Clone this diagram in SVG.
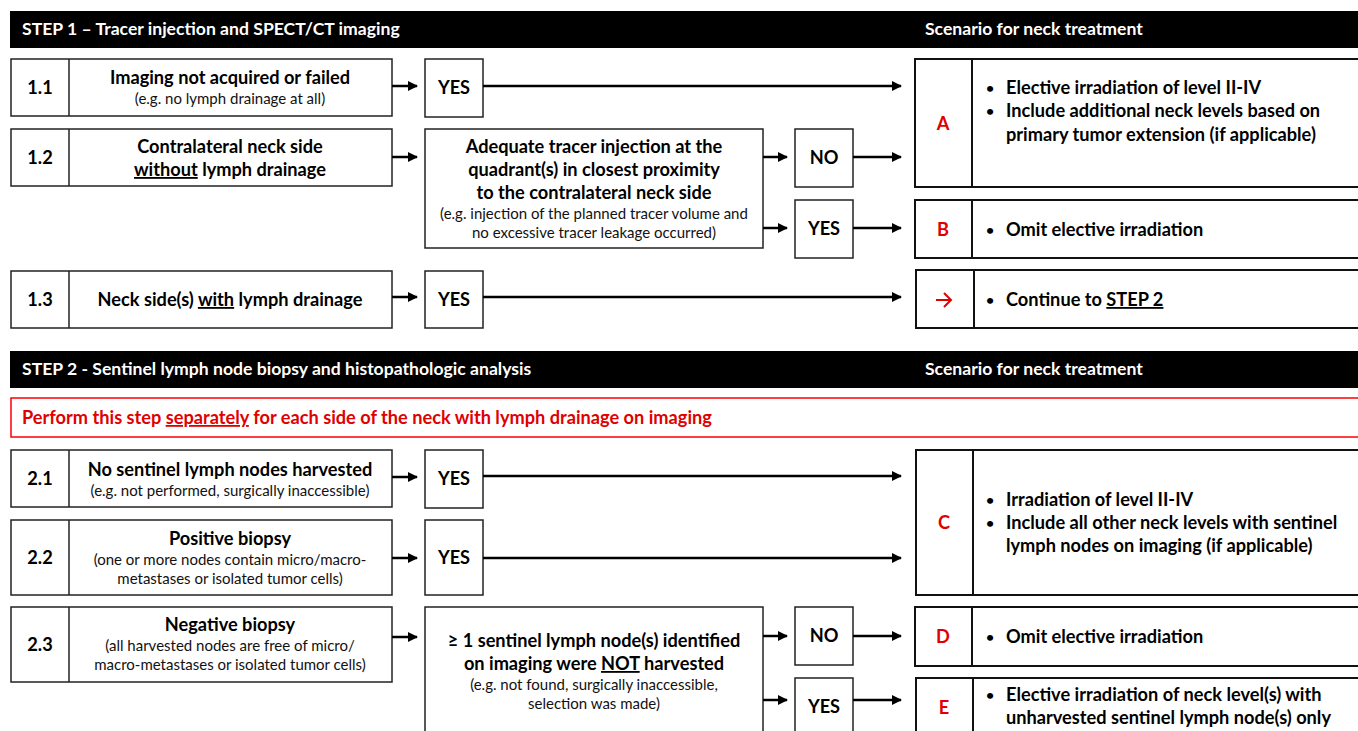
<svg xmlns="http://www.w3.org/2000/svg" width="1358" height="731" viewBox="0 0 1358 731">
<style>
text{font-family:Lato,"Open Sans","Liberation Sans",sans-serif;}
.b{font-weight:bold;font-size:18.2px;fill:#000;}
.s{font-size:15px;fill:#111;}
.h{font-weight:bold;font-size:17.6px;fill:#fff;}
.r{font-weight:bold;font-size:18.2px;fill:#e00000;}
.dot{font-weight:bold;font-size:14px;fill:#000;}
.m{text-anchor:middle;}
.box{fill:#fff;stroke:#222;stroke-width:1.5;}
.sbox{fill:#fff;stroke:#111;stroke-width:2;}
.bar{fill:#000;}
.con{stroke:#000;stroke-width:2.5;fill:none;marker-end:url(#ah);}
.u{text-decoration:underline;}
</style>
<defs>
<marker id="ah" viewBox="0 0 10 10" refX="9" refY="5" markerWidth="4" markerHeight="4" orient="auto" markerUnits="strokeWidth">
<path d="M0,0 L10,5 L0,10 z" fill="#000"/>
</marker>
</defs>
<rect width="1358" height="731" fill="#fff"/>

<g id="header1">
<rect class="bar" x="10" y="11" width="1350" height="37"/>
<text class="h" x="22" y="35">STEP 1 – Tracer injection and SPECT/CT imaging</text>
<text class="h" x="925" y="35">Scenario for neck treatment</text>
</g>

<g id="n1_1">
<rect class="box" x="11" y="59" width="381" height="57"/>
<line x1="69" y1="59" x2="69" y2="116" stroke="#222" stroke-width="1.5"/>
<text class="b m" x="40" y="94">1.1</text>
<text class="b m" x="230" y="84">Imaging not acquired or failed</text>
<text class="s m" x="230" y="104">(e.g. no lymph drainage at all)</text>
</g>
<g id="n1_2">
<rect class="box" x="11" y="129" width="381" height="57"/>
<line x1="69" y1="129" x2="69" y2="186" stroke="#222" stroke-width="1.5"/>
<text class="b m" x="40" y="164">1.2</text>
<text class="b m" x="230" y="153">Contralateral neck side</text>
<text class="b m" x="230" y="176"><tspan class="u">without</tspan> lymph drainage</text>
</g>
<g id="n1_3">
<rect class="box" x="11" y="271" width="381" height="57"/>
<line x1="69" y1="271" x2="69" y2="328" stroke="#222" stroke-width="1.5"/>
<text class="b m" x="40" y="306">1.3</text>
<text class="b m" x="230" y="306">Neck side(s) <tspan class="u">with</tspan> lymph drainage</text>
</g>
<g id="yes1_1">
<rect class="box" x="425" y="59" width="58" height="58"/>
<text class="b m" x="454" y="94">YES</text>
</g>
<g id="adequate">
<rect class="box" x="425" y="129" width="338" height="119"/>
<text class="b m" x="594" y="153">Adequate tracer injection at the</text>
<text class="b m" x="594" y="176">quadrant(s) in closest proximity</text>
<text class="b m" x="594" y="199">to the contralateral neck side</text>
<text class="s m" x="594" y="219">(e.g. injection of the planned tracer volume and</text>
<text class="s m" x="594" y="238">no excessive tracer leakage occurred)</text>
</g>
<g id="no1_2">
<rect class="box" x="795" y="129" width="58" height="58"/>
<text class="b m" x="824" y="164">NO</text>
</g>
<g id="yes1_2">
<rect class="box" x="795" y="200" width="58" height="58"/>
<text class="b m" x="824" y="235">YES</text>
</g>
<g id="yes1_3">
<rect class="box" x="425" y="271" width="58" height="57"/>
<text class="b m" x="454" y="306">YES</text>
</g>

<g id="scenA">
<rect class="sbox" x="915" y="59" width="450" height="128"/>
<line x1="972" y1="59" x2="972" y2="187" stroke="#111" stroke-width="2"/>
<text class="r m" x="943" y="130">A</text>
<text class="dot" x="986" y="93">•</text>
<text class="b" x="1006" y="94">Elective irradiation of level II-IV</text>
<text class="dot" x="986" y="116">•</text>
<text class="b" x="1006" y="117">Include additional neck levels based on</text>
<text class="b" x="1006" y="141">primary tumor extension (if applicable)</text>
</g>
<g id="scenB">
<rect class="sbox" x="915" y="200" width="450" height="58"/>
<line x1="972" y1="200" x2="972" y2="258" stroke="#111" stroke-width="2"/>
<text class="r m" x="943" y="236">B</text>
<text class="dot" x="986" y="235">•</text>
<text class="b" x="1006" y="236">Omit elective irradiation</text>
</g>
<g id="scenContinue">
<rect class="sbox" x="916" y="270" width="450" height="58"/>
<line x1="974" y1="270" x2="974" y2="328" stroke="#111" stroke-width="2"/>
<path d="M936,300 H950 M944,293 L951,300 L944,307" stroke="#e00000" stroke-width="2" fill="none"/>
<text class="dot" x="986" y="305">•</text>
<text class="b" x="1006" y="306">Continue to <tspan class="u">STEP 2</tspan></text>
</g>

<g id="header2">
<rect class="bar" x="10" y="351" width="1350" height="37"/>
<text class="h" x="22" y="375">STEP 2 - Sentinel lymph node biopsy and histopathologic analysis</text>
<text class="h" x="925" y="375">Scenario for neck treatment</text>
</g>
<g id="note">
<rect x="11" y="398" width="1352" height="39" fill="#fff" stroke="#ff0000" stroke-width="1.5"/>
<text class="r" x="22" y="424">Perform this step <tspan class="u">separately</tspan> for each side of the neck with lymph drainage on imaging</text>
</g>

<g id="n2_1">
<rect class="box" x="11" y="450" width="381" height="57"/>
<line x1="69" y1="450" x2="69" y2="507" stroke="#222" stroke-width="1.5"/>
<text class="b m" x="40" y="485">2.1</text>
<text class="b m" x="230" y="476">No sentinel lymph nodes harvested</text>
<text class="s m" x="230" y="496">(e.g. not performed, surgically inaccessible)</text>
</g>
<g id="n2_2">
<rect class="box" x="11" y="520" width="381" height="75"/>
<line x1="69" y1="520" x2="69" y2="595" stroke="#222" stroke-width="1.5"/>
<text class="b m" x="40" y="564">2.2</text>
<text class="b m" x="230" y="545">Positive biopsy</text>
<text class="s m" x="230" y="565">(one or more nodes contain micro/macro-</text>
<text class="s m" x="230" y="584">metastases or isolated tumor cells)</text>
</g>
<g id="n2_3">
<rect class="box" x="11" y="607" width="381" height="75"/>
<line x1="69" y1="607" x2="69" y2="682" stroke="#222" stroke-width="1.5"/>
<text class="b m" x="40" y="651">2.3</text>
<text class="b m" x="230" y="631">Negative biopsy</text>
<text class="s m" x="230" y="651">(all harvested nodes are free of micro/</text>
<text class="s m" x="230" y="670">macro-metastases or isolated tumor cells)</text>
</g>
<g id="yes2_1">
<rect class="box" x="425" y="450" width="58" height="58"/>
<text class="b m" x="454" y="485">YES</text>
</g>
<g id="yes2_2">
<rect class="box" x="425" y="520" width="58" height="75"/>
<text class="b m" x="454" y="564">YES</text>
</g>
<g id="notHarvested">
<rect class="box" x="425" y="607" width="338" height="140"/>
<text class="b m" x="594" y="647">≥ 1 sentinel lymph node(s) identified</text>
<text class="b m" x="594" y="670">on imaging were <tspan class="u">NOT</tspan> harvested</text>
<text class="s m" x="594" y="690">(e.g. not found, surgically inaccessible,</text>
<text class="s m" x="594" y="709">selection was made)</text>
</g>
<g id="no2_3">
<rect class="box" x="795" y="607" width="58" height="58"/>
<text class="b m" x="824" y="642">NO</text>
</g>
<g id="yes2_3">
<rect class="box" x="795" y="678" width="58" height="70"/>
<text class="b m" x="824" y="713">YES</text>
</g>

<g id="scenC">
<rect class="sbox" x="916" y="450" width="450" height="145"/>
<line x1="973" y1="450" x2="973" y2="595" stroke="#111" stroke-width="2"/>
<text class="r m" x="944" y="529">C</text>
<text class="dot" x="986" y="505">•</text>
<text class="b" x="1006" y="506">Irradiation of level II-IV</text>
<text class="dot" x="986" y="528">•</text>
<text class="b" x="1006" y="529">Include all other neck levels with sentinel</text>
<text class="b" x="1006" y="552">lymph nodes on imaging (if applicable)</text>
</g>
<g id="scenD">
<rect class="sbox" x="915" y="607" width="450" height="59"/>
<line x1="972" y1="607" x2="972" y2="666" stroke="#111" stroke-width="2"/>
<text class="r m" x="943" y="643">D</text>
<text class="dot" x="986" y="642">•</text>
<text class="b" x="1006" y="643">Omit elective irradiation</text>
</g>
<g id="scenE">
<rect class="sbox" x="916" y="678" width="450" height="70"/>
<line x1="973" y1="678" x2="973" y2="748" stroke="#111" stroke-width="2"/>
<text class="r m" x="944" y="714">E</text>
<text class="dot" x="986" y="700">•</text>
<text class="b" x="1006" y="701">Elective irradiation of neck level(s) with</text>
<text class="b" x="1006" y="724">unharvested sentinel lymph node(s) only</text>
</g>

<g id="connectors">
<line class="con" x1="392" y1="86" x2="417" y2="86"/>
<line class="con" x1="483" y1="86" x2="901" y2="86"/>
<line class="con" x1="392" y1="157" x2="417" y2="157"/>
<line class="con" x1="763" y1="157" x2="787" y2="157"/>
<line class="con" x1="853" y1="157" x2="901" y2="157"/>
<line class="con" x1="763" y1="228" x2="787" y2="228"/>
<line class="con" x1="853" y1="228" x2="901" y2="228"/>
<line class="con" x1="392" y1="297" x2="417" y2="297"/>
<line class="con" x1="483" y1="297" x2="901" y2="297"/>
<line class="con" x1="392" y1="477" x2="417" y2="477"/>
<line class="con" x1="483" y1="476" x2="901" y2="476"/>
<line class="con" x1="392" y1="558" x2="417" y2="558"/>
<line class="con" x1="483" y1="558" x2="901" y2="558"/>
<line class="con" x1="392" y1="637" x2="417" y2="637"/>
<line class="con" x1="763" y1="636" x2="787" y2="636"/>
<line class="con" x1="853" y1="636" x2="901" y2="636"/>
<line class="con" x1="763" y1="700" x2="787" y2="700"/>
<line class="con" x1="853" y1="700" x2="901" y2="700"/>
</g>
</svg>
